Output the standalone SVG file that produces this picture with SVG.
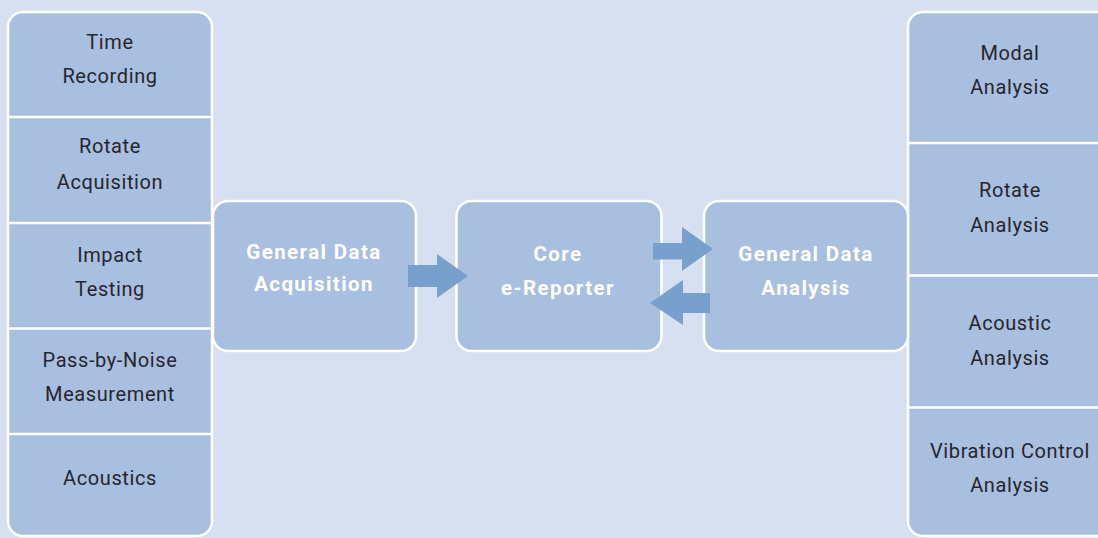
<svg xmlns="http://www.w3.org/2000/svg" width="1098" height="538" viewBox="0 0 1098 538">
<style>
.box{fill:#a8bfe0;stroke:#ffffff;stroke-width:2.5}
.div{stroke:#ffffff;stroke-width:2.5}
.t{font-family:Roboto,"Liberation Sans",sans-serif;font-size:20px;fill:#26262c;text-anchor:middle;letter-spacing:0.6px}
.b{font-family:Roboto,"Liberation Sans",sans-serif;font-size:20.5px;font-weight:bold;fill:#ffffff;text-anchor:middle;letter-spacing:1.4px}
.arr{fill:#77a0cd}
</style>
<rect width="1098" height="538" fill="#d6e0f0"/>
<g id="left-column">
<rect class="box" x="8" y="12" width="204" height="524" rx="15"/>
<line class="div" x1="8" y1="117" x2="212" y2="117"/>
<line class="div" x1="8" y1="223" x2="212" y2="223"/>
<line class="div" x1="8" y1="328.5" x2="212" y2="328.5"/>
<line class="div" x1="8" y1="434" x2="212" y2="434"/>
</g>
<g id="time-recording"><text class="t" x="110" y="49">Time</text><text class="t" x="110" y="83">Recording</text></g>
<g id="rotate-acquisition"><text class="t" x="110" y="153">Rotate</text><text class="t" x="110" y="189">Acquisition</text></g>
<g id="impact-testing"><text class="t" x="110" y="261.5">Impact</text><text class="t" x="110" y="296">Testing</text></g>
<g id="pass-by-noise"><text class="t" x="110" y="366.5">Pass-by-Noise</text><text class="t" x="110" y="401">Measurement</text></g>
<g id="acoustics"><text class="t" x="110" y="485">Acoustics</text></g>
<g id="right-column">
<rect class="box" x="908" y="12" width="220" height="524" rx="15"/>
<line class="div" x1="908" y1="143" x2="1100" y2="143"/>
<line class="div" x1="908" y1="275.5" x2="1100" y2="275.5"/>
<line class="div" x1="908" y1="407.5" x2="1100" y2="407.5"/>
</g>
<g id="modal-analysis"><text class="t" x="1010" y="60">Modal</text><text class="t" x="1010" y="94">Analysis</text></g>
<g id="rotate-analysis"><text class="t" x="1010" y="197">Rotate</text><text class="t" x="1010" y="231.5">Analysis</text></g>
<g id="acoustic-analysis"><text class="t" x="1010" y="330">Acoustic</text><text class="t" x="1010" y="364.5">Analysis</text></g>
<g id="vibration-control-analysis"><text class="t" x="1010" y="457.5">Vibration Control</text><text class="t" x="1010" y="491.5">Analysis</text></g>
<g id="general-data-acquisition">
<rect class="box" x="213" y="201" width="203" height="150" rx="15"/>
<text class="b" x="314" y="258.5">General Data</text><text class="b" x="314" y="291">Acquisition</text>
</g>
<g id="core-e-reporter">
<rect class="box" x="456.5" y="201" width="205" height="150" rx="15"/>
<text class="b" x="558" y="260.5">Core</text><text class="b" x="558" y="295">e-Reporter</text>
</g>
<g id="general-data-analysis">
<rect class="box" x="704" y="201" width="204" height="150" rx="15"/>
<text class="b" x="806" y="260.5">General Data</text><text class="b" x="806" y="295">Analysis</text>
</g>
<g id="connectors">
<polygon class="arr" points="408,265 437,265 437,254 468,276 437,298 437,287 408,287"/>
<polygon class="arr" points="653,243 682,243 682,227 713,249 682,271 682,259.5 653,259.5"/>
<polygon class="arr" points="710,293 683,293 683,280 650,303 683,325 683,313 710,313"/>
</g>
</svg>
